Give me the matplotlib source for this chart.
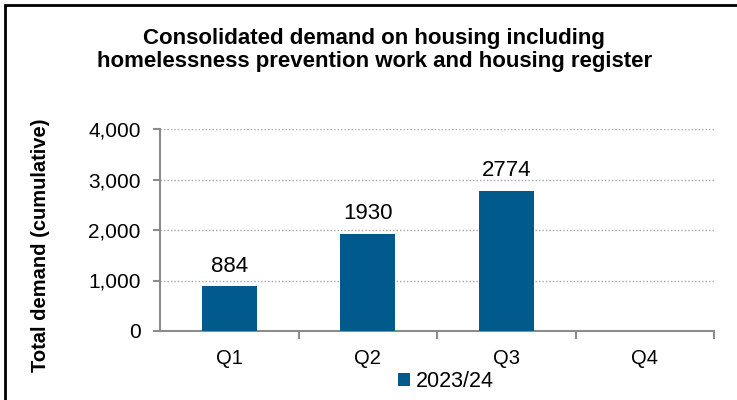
import matplotlib.pyplot as plt
from matplotlib.patches import Rectangle
from matplotlib.ticker import FuncFormatter

plt.rcParams['font.family'] = ['Liberation Sans', 'DejaVu Sans']

quarters = ["Q1", "Q2", "Q3", "Q4"]
demand = [884, 1930, 2774, None]
series_name = "2023/24"
bar_color = "#005A8C"
axis_color = "#8C8C8C"

fig = plt.figure(figsize=(7.37, 4.0), dpi=100)
ax = fig.add_axes([160 / 737, 1 - 331 / 400, (714 - 160) / 737, (331 - 129) / 400])

xs = [i for i, v in enumerate(demand) if v is not None]
vals = [v for v in demand if v is not None]
bars = ax.bar(xs, vals, width=0.40, color=bar_color, label=series_name, zorder=3)
for b, v in zip(bars, vals):
    ax.text(b.get_x() + b.get_width() / 2, v + 190, str(v),
            ha="center", va="bottom", fontsize=16)

ax.set_xlim(-0.5, 3.5)
ax.set_ylim(0, 4000)
ax.set_yticks(range(0, 4001, 1000))
ax.yaxis.set_major_formatter(FuncFormatter(lambda y, _: f"{int(y):,}"))
ax.set_xticks(range(4))
ax.set_xticklabels(quarters)
ax.set_xticks([0.5, 1.5, 2.5, 3.5], minor=True)

ax.grid(axis="y", linestyle=(0, (1, 1.5)), color="#A6A6A6", linewidth=1.0, zorder=0)
for s in ["top", "right"]:
    ax.spines[s].set_visible(False)
for s in ["left", "bottom"]:
    ax.spines[s].set_color(axis_color)
    ax.spines[s].set_linewidth(1.5)
ax.tick_params(axis="y", direction="out", length=5, color=axis_color, width=1.5,
               labelsize=15, pad=9)
ax.tick_params(axis="x", which="major", length=0, labelsize=14.5, pad=13)
ax.tick_params(axis="x", which="minor", direction="out", length=6,
               color=axis_color, width=1.5)

ax.set_ylabel("Total demand (cumulative)", fontsize=14.5, fontweight="bold")
ax.yaxis.set_label_coords(-0.199, 0.425)

fig.text(0.508, 0.875, "Consolidated demand on housing including\n"
         "homelessness prevention work and housing register",
         ha="center", va="center", fontsize=16, fontweight="bold", linespacing=1.1)

ax.legend(loc="center", bbox_to_anchor=(0.516, -0.252), frameon=False, fontsize=15.5,
          handlelength=0.55, handleheight=0.55, handletextpad=0.3)

# outer frame of the chart area
fig.patches.append(Rectangle((5 / 737, -0.05), 1.1, 1 - 5 / 400 + 0.05,
                             transform=fig.transFigure, fill=False,
                             edgecolor="black", linewidth=2))

fig.savefig("out.png", dpi=100)
